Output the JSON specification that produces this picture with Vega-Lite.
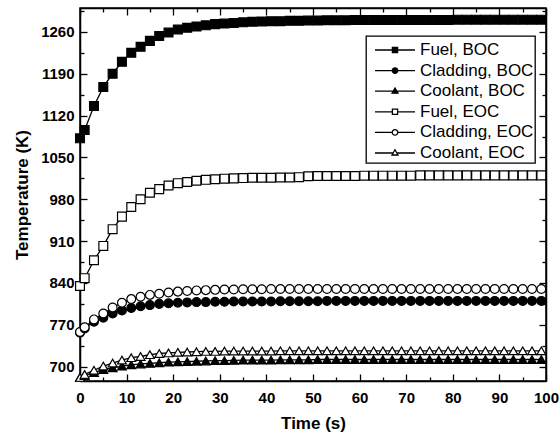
{
  "$schema": "https://vega.github.io/schema/vega-lite/v6.json",
  "width": 466,
  "height": 373,
  "autosize": {"type": "none"},
  "padding": {"left": 80, "top": 8, "right": 14, "bottom": 62},
  "background": "white",
  "config": {
    "font": "Liberation Sans",
    "view": {"stroke": "black", "strokeWidth": 1.5},
    "axis": {
      "grid": false,
      "domainColor": "black",
      "domainWidth": 1.5,
      "tickColor": "black",
      "tickWidth": 1.3,
      "labelColor": "black",
      "labelFont": "Liberation Sans",
      "labelFontSize": 15,
      "labelFontWeight": "bold",
      "labelFlush": false,
      "labelOverlap": false,
      "titleColor": "black",
      "titleFont": "Liberation Sans",
      "titleFontSize": 17,
      "titleFontWeight": "bold"
    },
    "legend": {
      "strokeWidth": 1.3,
      "orient": "none",
      "legendX": 286,
      "legendY": 28,
      "titlePadding": 0,
      "titleFontSize": 4,
      "padding": 1,
      "strokeColor": "black",
      "fillColor": "white",
      "labelFont": "Liberation Sans",
      "labelFontSize": 17,
      "labelColor": "black",
      "labelOffset": 4,
      "symbolOffset": 7,
      "clipHeight": 18,
      "rowPadding": 2.6,
      "symbolSize": 1600,
      "symbolStrokeWidth": 1.3,
      "symbolStrokeColor": "black",
      "symbolOpacity": 1
    }
  },
  "data": {
    "values": [
      {"t": 0, "Fuel, BOC": 1082, "Cladding, BOC": 757, "Coolant, BOC": 682, "Fuel, EOC": 835, "Cladding, EOC": 758, "Coolant, EOC": 682},
      {"t": 1, "Fuel, BOC": 1096, "Cladding, BOC": 764, "Coolant, BOC": 685, "Fuel, EOC": 848, "Cladding, EOC": 766, "Coolant, EOC": 687},
      {"t": 3, "Fuel, BOC": 1136, "Cladding, BOC": 775, "Coolant, BOC": 690, "Fuel, EOC": 878, "Cladding, EOC": 779, "Coolant, EOC": 694},
      {"t": 5, "Fuel, BOC": 1168, "Cladding, BOC": 782, "Coolant, BOC": 695, "Fuel, EOC": 902, "Cladding, EOC": 789, "Coolant, EOC": 701},
      {"t": 7, "Fuel, BOC": 1190, "Cladding, BOC": 789, "Coolant, BOC": 698, "Fuel, EOC": 930, "Cladding, EOC": 799, "Coolant, EOC": 706},
      {"t": 9, "Fuel, BOC": 1210, "Cladding, BOC": 794, "Coolant, BOC": 701, "Fuel, EOC": 951, "Cladding, EOC": 807, "Coolant, EOC": 711},
      {"t": 11, "Fuel, BOC": 1225, "Cladding, BOC": 798, "Coolant, BOC": 703, "Fuel, EOC": 967, "Cladding, EOC": 813, "Coolant, EOC": 715},
      {"t": 13, "Fuel, BOC": 1235, "Cladding, BOC": 801, "Coolant, BOC": 704.5, "Fuel, EOC": 980, "Cladding, EOC": 817, "Coolant, EOC": 717},
      {"t": 15, "Fuel, BOC": 1245, "Cladding, BOC": 803, "Coolant, BOC": 705.5, "Fuel, EOC": 991, "Cladding, EOC": 820, "Coolant, EOC": 720},
      {"t": 17, "Fuel, BOC": 1253, "Cladding, BOC": 805, "Coolant, BOC": 706.5, "Fuel, EOC": 997, "Cladding, EOC": 822, "Coolant, EOC": 722},
      {"t": 19, "Fuel, BOC": 1259, "Cladding, BOC": 806, "Coolant, BOC": 707.5, "Fuel, EOC": 1003, "Cladding, EOC": 824, "Coolant, EOC": 723},
      {"t": 21, "Fuel, BOC": 1264, "Cladding, BOC": 807, "Coolant, BOC": 708, "Fuel, EOC": 1007, "Cladding, EOC": 825.5, "Coolant, EOC": 724},
      {"t": 23, "Fuel, BOC": 1267, "Cladding, BOC": 807.5, "Coolant, BOC": 708.5, "Fuel, EOC": 1009, "Cladding, EOC": 826.5, "Coolant, EOC": 724.5},
      {"t": 25, "Fuel, BOC": 1269, "Cladding, BOC": 808, "Coolant, BOC": 709, "Fuel, EOC": 1011, "Cladding, EOC": 827.5, "Coolant, EOC": 725},
      {"t": 27, "Fuel, BOC": 1271, "Cladding, BOC": 808, "Coolant, BOC": 709.5, "Fuel, EOC": 1012.5, "Cladding, EOC": 828, "Coolant, EOC": 725.5},
      {"t": 29, "Fuel, BOC": 1273, "Cladding, BOC": 808.5, "Coolant, BOC": 710, "Fuel, EOC": 1013.5, "Cladding, EOC": 828.5, "Coolant, EOC": 725.5},
      {"t": 31, "Fuel, BOC": 1274, "Cladding, BOC": 808.5, "Coolant, BOC": 710, "Fuel, EOC": 1014.5, "Cladding, EOC": 829, "Coolant, EOC": 726},
      {"t": 33, "Fuel, BOC": 1275, "Cladding, BOC": 809, "Coolant, BOC": 710.5, "Fuel, EOC": 1015, "Cladding, EOC": 829, "Coolant, EOC": 726},
      {"t": 35, "Fuel, BOC": 1276, "Cladding, BOC": 809, "Coolant, BOC": 711, "Fuel, EOC": 1015.5, "Cladding, EOC": 829.5, "Coolant, EOC": 726},
      {"t": 37, "Fuel, BOC": 1277, "Cladding, BOC": 809, "Coolant, BOC": 711, "Fuel, EOC": 1016, "Cladding, EOC": 829.5, "Coolant, EOC": 726},
      {"t": 39, "Fuel, BOC": 1277.5, "Cladding, BOC": 809, "Coolant, BOC": 711, "Fuel, EOC": 1016, "Cladding, EOC": 829.5, "Coolant, EOC": 726},
      {"t": 41, "Fuel, BOC": 1278, "Cladding, BOC": 809, "Coolant, BOC": 711, "Fuel, EOC": 1016, "Cladding, EOC": 830, "Coolant, EOC": 726},
      {"t": 43, "Fuel, BOC": 1278, "Cladding, BOC": 809.5, "Coolant, BOC": 711.5, "Fuel, EOC": 1016.5, "Cladding, EOC": 830, "Coolant, EOC": 726.5},
      {"t": 45, "Fuel, BOC": 1278.5, "Cladding, BOC": 809.5, "Coolant, BOC": 711.5, "Fuel, EOC": 1016.5, "Cladding, EOC": 830, "Coolant, EOC": 726.5},
      {"t": 47, "Fuel, BOC": 1278.5, "Cladding, BOC": 809.5, "Coolant, BOC": 711.5, "Fuel, EOC": 1017, "Cladding, EOC": 830, "Coolant, EOC": 726.5},
      {"t": 49, "Fuel, BOC": 1279, "Cladding, BOC": 809.5, "Coolant, BOC": 711.5, "Fuel, EOC": 1018.5, "Cladding, EOC": 830, "Coolant, EOC": 726.5},
      {"t": 51, "Fuel, BOC": 1279, "Cladding, BOC": 809.5, "Coolant, BOC": 712, "Fuel, EOC": 1019, "Cladding, EOC": 830, "Coolant, EOC": 726.5},
      {"t": 53, "Fuel, BOC": 1279.5, "Cladding, BOC": 810, "Coolant, BOC": 712, "Fuel, EOC": 1019, "Cladding, EOC": 830, "Coolant, EOC": 726.5},
      {"t": 55, "Fuel, BOC": 1279.5, "Cladding, BOC": 810, "Coolant, BOC": 712, "Fuel, EOC": 1019, "Cladding, EOC": 830, "Coolant, EOC": 726.5},
      {"t": 57, "Fuel, BOC": 1279.5, "Cladding, BOC": 810, "Coolant, BOC": 712, "Fuel, EOC": 1019, "Cladding, EOC": 830, "Coolant, EOC": 726.5},
      {"t": 59, "Fuel, BOC": 1280, "Cladding, BOC": 810, "Coolant, BOC": 712, "Fuel, EOC": 1019, "Cladding, EOC": 830, "Coolant, EOC": 726.5},
      {"t": 61, "Fuel, BOC": 1280, "Cladding, BOC": 810, "Coolant, BOC": 712, "Fuel, EOC": 1019.5, "Cladding, EOC": 830, "Coolant, EOC": 726.5},
      {"t": 63, "Fuel, BOC": 1280, "Cladding, BOC": 810, "Coolant, BOC": 712, "Fuel, EOC": 1019.5, "Cladding, EOC": 830, "Coolant, EOC": 726.5},
      {"t": 65, "Fuel, BOC": 1280, "Cladding, BOC": 810, "Coolant, BOC": 712, "Fuel, EOC": 1019.5, "Cladding, EOC": 830, "Coolant, EOC": 726.5},
      {"t": 67, "Fuel, BOC": 1280, "Cladding, BOC": 810, "Coolant, BOC": 712, "Fuel, EOC": 1019.5, "Cladding, EOC": 830, "Coolant, EOC": 726.5},
      {"t": 69, "Fuel, BOC": 1280, "Cladding, BOC": 810, "Coolant, BOC": 712, "Fuel, EOC": 1019.5, "Cladding, EOC": 830, "Coolant, EOC": 726.5},
      {"t": 71, "Fuel, BOC": 1280, "Cladding, BOC": 810, "Coolant, BOC": 712, "Fuel, EOC": 1019.5, "Cladding, EOC": 830, "Coolant, EOC": 726.5},
      {"t": 73, "Fuel, BOC": 1280, "Cladding, BOC": 810, "Coolant, BOC": 712, "Fuel, EOC": 1020, "Cladding, EOC": 830, "Coolant, EOC": 726.5},
      {"t": 75, "Fuel, BOC": 1280, "Cladding, BOC": 810, "Coolant, BOC": 712, "Fuel, EOC": 1020, "Cladding, EOC": 830, "Coolant, EOC": 726.5},
      {"t": 77, "Fuel, BOC": 1280, "Cladding, BOC": 810, "Coolant, BOC": 712, "Fuel, EOC": 1020, "Cladding, EOC": 830, "Coolant, EOC": 726.5},
      {"t": 79, "Fuel, BOC": 1280, "Cladding, BOC": 810, "Coolant, BOC": 712, "Fuel, EOC": 1020, "Cladding, EOC": 830, "Coolant, EOC": 726.5},
      {"t": 81, "Fuel, BOC": 1280.5, "Cladding, BOC": 810, "Coolant, BOC": 712, "Fuel, EOC": 1020, "Cladding, EOC": 830, "Coolant, EOC": 726.5},
      {"t": 83, "Fuel, BOC": 1280.5, "Cladding, BOC": 810, "Coolant, BOC": 712, "Fuel, EOC": 1020, "Cladding, EOC": 830, "Coolant, EOC": 726.5},
      {"t": 85, "Fuel, BOC": 1280.5, "Cladding, BOC": 810, "Coolant, BOC": 712, "Fuel, EOC": 1020, "Cladding, EOC": 830, "Coolant, EOC": 726.5},
      {"t": 87, "Fuel, BOC": 1280.5, "Cladding, BOC": 810, "Coolant, BOC": 712, "Fuel, EOC": 1020, "Cladding, EOC": 830, "Coolant, EOC": 726.5},
      {"t": 89, "Fuel, BOC": 1280.5, "Cladding, BOC": 810, "Coolant, BOC": 712, "Fuel, EOC": 1020, "Cladding, EOC": 830, "Coolant, EOC": 726.5},
      {"t": 91, "Fuel, BOC": 1280.5, "Cladding, BOC": 810, "Coolant, BOC": 712, "Fuel, EOC": 1020, "Cladding, EOC": 830, "Coolant, EOC": 726.5},
      {"t": 93, "Fuel, BOC": 1280.5, "Cladding, BOC": 810, "Coolant, BOC": 712, "Fuel, EOC": 1020, "Cladding, EOC": 830, "Coolant, EOC": 726.5},
      {"t": 95, "Fuel, BOC": 1280.5, "Cladding, BOC": 810, "Coolant, BOC": 712, "Fuel, EOC": 1020, "Cladding, EOC": 830, "Coolant, EOC": 726.5},
      {"t": 97, "Fuel, BOC": 1280.5, "Cladding, BOC": 810, "Coolant, BOC": 712, "Fuel, EOC": 1020, "Cladding, EOC": 830, "Coolant, EOC": 726.5},
      {"t": 99, "Fuel, BOC": 1280.5, "Cladding, BOC": 810, "Coolant, BOC": 712, "Fuel, EOC": 1020, "Cladding, EOC": 830, "Coolant, EOC": 726.5}
    ]
  },
  "transform": [
    {"fold": ["Fuel, BOC", "Cladding, BOC", "Coolant, BOC", "Fuel, EOC", "Cladding, EOC", "Coolant, EOC"], "as": ["series", "temp"]}
  ],
  "layer": [
    {
      "mark": {"type": "line", "color": "black", "strokeWidth": 1.3},
      "encoding": {
        "x": {
          "field": "t", "type": "quantitative",
          "scale": {"domain": [0, 100], "nice": false},
          "axis": {
            "orient": "bottom",
            "title": "Time (s)",
            "values": [0, 5, 10, 15, 20, 25, 30, 35, 40, 45, 50, 55, 60, 65, 70, 75, 80, 85, 90, 95, 100],
            "labelExpr": "datum.value % 10 === 0 ? datum.label : ''",
            "tickSize": {"condition": {"test": "datum.value % 10 !== 0", "value": -4}, "value": -7},
            "labelPadding": 16,
            "titlePadding": 7
          }
        },
        "y": {
          "field": "temp", "type": "quantitative",
          "scale": {"domain": [676, 1300], "nice": false, "zero": false},
          "axis": {
            "orient": "left",
            "title": "Temperature (K)",
            "format": "d",
            "values": [700, 735, 770, 805, 840, 875, 910, 945, 980, 1015, 1050, 1085, 1120, 1155, 1190, 1225, 1260, 1295],
            "labelExpr": "(datum.value - 700) % 70 === 0 ? datum.label : ''",
            "tickSize": {"condition": {"test": "(datum.value - 700) % 70 !== 0", "value": -4}, "value": -7},
            "labelPadding": 13,
            "titlePadding": 9
          }
        },
        "detail": {"field": "series"}
      }
    },
    {
      "mark": {"type": "point", "filled": true, "stroke": "black", "strokeWidth": 1.2, "size": 78, "opacity": 1},
      "encoding": {
        "x": {
          "field": "t", "type": "quantitative",
          "scale": {"domain": [0, 100], "nice": false},
          "axis": {
            "orient": "top", "title": null, "labels": false,
            "values": [0, 5, 10, 15, 20, 25, 30, 35, 40, 45, 50, 55, 60, 65, 70, 75, 80, 85, 90, 95, 100],
            "tickSize": {"condition": {"test": "datum.value % 10 !== 0", "value": -4}, "value": -7}
          }
        },
        "y": {
          "field": "temp", "type": "quantitative",
          "scale": {"domain": [676, 1300], "nice": false, "zero": false},
          "axis": {
            "orient": "right", "title": null, "labels": false,
            "values": [700, 735, 770, 805, 840, 875, 910, 945, 980, 1015, 1050, 1085, 1120, 1155, 1190, 1225, 1260, 1295],
            "tickSize": {"condition": {"test": "(datum.value - 700) % 70 !== 0", "value": -4}, "value": -7}
          }
        },
        "shape": {
          "field": "series", "type": "nominal",
          "scale": {"domain": ["Fuel, BOC", "Cladding, BOC", "Coolant, BOC", "Fuel, EOC", "Cladding, EOC", "Coolant, EOC"], "range": ["square", "circle", "triangle-up", "square", "circle", "triangle-up"]},
          "legend": null
        },
        "fill": {
          "field": "series", "type": "nominal",
          "scale": {"domain": ["Fuel, BOC", "Cladding, BOC", "Coolant, BOC", "Fuel, EOC", "Cladding, EOC", "Coolant, EOC"], "range": ["black", "black", "black", "white", "white", "white"]},
          "legend": null
        }
      }
    },
    {
      "mark": {"type": "point", "filled": true, "stroke": "black", "strokeWidth": 1.3, "opacity": 0},
      "encoding": {
        "x": {"field": "t", "type": "quantitative", "scale": {"domain": [0, 100], "nice": false}, "axis": null},
        "y": {"field": "temp", "type": "quantitative", "scale": {"domain": [676, 1300], "nice": false, "zero": false}, "axis": null},
        "shape": {
          "field": "series", "type": "nominal",
          "scale": {
            "domain": ["Fuel, BOC", "Cladding, BOC", "Coolant, BOC", "Fuel, EOC", "Cladding, EOC", "Coolant, EOC"],
            "range": [
              "M-1,0H-0.13M0.13,0H1M-0.13,-0.13H0.13V0.13H-0.13Z",
              "M-1,0H-0.14M0.14,0H1M-0.14,0A0.14,0.14,0,1,0,0.14,0A0.14,0.14,0,1,0,-0.14,0Z",
              "M-1,0H-0.1M0.1,0H1M-0.15,0.1L0,-0.16L0.15,0.1Z",
              "M-1,0H-0.13M0.13,0H1M-0.13,-0.13H0.13V0.13H-0.13Z",
              "M-1,0H-0.14M0.14,0H1M-0.14,0A0.14,0.14,0,1,0,0.14,0A0.14,0.14,0,1,0,-0.14,0Z",
              "M-1,0H-0.1M0.1,0H1M-0.15,0.1L0,-0.16L0.15,0.1Z"
            ]
          },
          "legend": {
            "title": " ",
            "encode": {
              "symbols": {
                "update": {
                  "stroke": {"value": "black"},
                  "strokeWidth": {"value": 1.3},
                  "strokeOpacity": {"value": 1}
                }
              }
            }
          }
        },
        "fill": {
          "field": "series", "type": "nominal",
          "scale": {"domain": ["Fuel, BOC", "Cladding, BOC", "Coolant, BOC", "Fuel, EOC", "Cladding, EOC", "Coolant, EOC"], "range": ["black", "black", "black", "white", "white", "white"]},
          "legend": {
            "title": " ",
            "encode": {
              "symbols": {
                "update": {
                  "stroke": {"value": "black"},
                  "strokeWidth": {"value": 1.3},
                  "strokeOpacity": {"value": 1}
                }
              }
            }
          }
        }
      }
    }
  ],
  "resolve": {
    "axis": {"x": "independent", "y": "independent"},
    "scale": {"shape": "independent", "fill": "independent"}
  }
}
